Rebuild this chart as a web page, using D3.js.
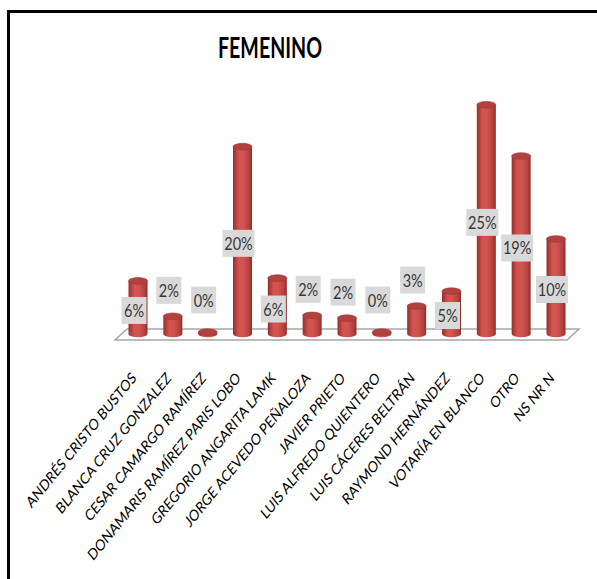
<!DOCTYPE html>
<html>
<head>
<meta charset="utf-8">
<script src="https://cdn.jsdelivr.net/npm/d3@7/dist/d3.min.js"></script>
<style>
  html, body { margin: 0; padding: 0; background: #fff; }
  svg { display: block; }
</style>
</head>
<body>
<svg id="chart" width="597" height="579"></svg>
<script>
const title = "FEMENINO";
const categories = [
  "ANDRÉS CRISTO BUSTOS",
  "BLANCA CRUZ GONZALEZ",
  "CESAR CAMARGO RAMÍREZ",
  "DONAMARIS RAMÍREZ PARIS LOBO",
  "GREGORIO ANGARITA LAMK",
  "JORGE ACEVEDO PEÑALOZA",
  "JAVIER PRIETO",
  "LUIS ALFREDO QUIENTERO",
  "LUIS CÁCERES BELTRÁN",
  "RAYMOND HERNÁNDEZ",
  "VOTARÍA EN BLANCO",
  "OTRO",
  "NS NR N"
];
const values = [5.7, 1.9, 0.2, 20.1, 6.0, 2.0, 1.7, 0.2, 3.0, 4.6, 24.6, 19.1, 10.2];

const svg = d3.select("#chart");
const S = 1.23;             // vertical stretch of the reference's text
const FONT = "Lato, 'Open Sans', sans-serif";

// frame
svg.append("rect")
  .attr("x", 8.5).attr("y", 11.5)
  .attr("width", 800).attr("height", 800)
  .attr("fill", "none").attr("stroke", "#000").attr("stroke-width", 3);

// title
svg.append("text")
  .attr("transform", `translate(270,58) scale(1,1.2)`)
  .attr("text-anchor", "middle")
  .attr("font-family", FONT).attr("font-weight", "bold")
  .attr("font-size", 24)
  .attr("textLength", 104).attr("lengthAdjust", "spacingAndGlyphs")
  .attr("fill", "#000")
  .text(title);

// scales
const baseY = 334;
const x = d3.scalePoint().domain(categories).range([138, 556]);
const y = d3.scaleLinear().domain([0, 25]).range([baseY, baseY - 233]);

// floor
const floorBack = 329, floorFront = 340;
svg.append("path")
  .attr("d", `M127,${floorBack} L579,${floorBack} L567,${floorFront} L115,${floorFront} Z`)
  .attr("fill", "#fff").attr("stroke", "#a6a6a6").attr("stroke-width", 1.5);

// gradient
const defs = svg.append("defs");
const g = defs.append("linearGradient").attr("id", "cyl").attr("x1", "0").attr("x2", "1").attr("y1", "0").attr("y2", "0");
[["0%", "#93302e"], ["30%", "#d4534f"], ["55%", "#cf5450"], ["85%", "#b5403c"], ["100%", "#8a2e2b"]]
  .forEach(([o, c]) => g.append("stop").attr("offset", o).attr("stop-color", c));

const r = 9.5, ry = 3.3;
const bars = svg.append("g").selectAll("g").data(values).join("g");
bars.append("path")
  .attr("d", (d, i) => {
    const cx = x(categories[i]), yt = y(d);
    return `M${cx - r},${yt} L${cx - r},${baseY} A${r},${ry} 0 0 0 ${cx + r},${baseY} L${cx + r},${yt} Z`;
  })
  .attr("fill", "url(#cyl)");
bars.append("ellipse")
  .attr("cx", (d, i) => x(categories[i]))
  .attr("cy", d => y(d))
  .attr("rx", r).attr("ry", ry)
  .attr("fill", "#b2423f").attr("stroke", "#9a3532").attr("stroke-width", 0.6);

// data labels
const fmt = v => d3.format(".0f")(v) + "%";
const labels = svg.append("g").selectAll("g").data(values).join("g")
  .attr("transform", (d, i) => {
    const cx = x(categories[i]) - 4;
    const yt = y(d);
    const cy = d >= 4 ? (yt + baseY) / 2 + 3 : Math.min(yt - 26, 300);
    return `translate(${cx},${cy})`;
  });
labels.append("rect")
  .attr("x", d => fmt(d).length > 2 ? -16 : -12.5)
  .attr("width", d => fmt(d).length > 2 ? 32 : 25)
  .attr("y", -13.5).attr("height", 27)
  .attr("fill", "#d9d9d9");
labels.append("text")
  .attr("transform", `translate(0,6.5) scale(1,${S})`)
  .attr("text-anchor", "middle")
  .attr("font-family", FONT).attr("font-size", 14.5)
  .attr("fill", "#383838")
  .text(fmt);

// category labels
svg.append("g").selectAll("text").data(categories).join("text")
  .attr("transform", d => `translate(${x(d) - 1},379) scale(1,${S}) rotate(-45)`)
  .attr("text-anchor", "end")
  .attr("font-family", FONT).attr("font-size", 12.7)
  .attr("fill", "#000")
  .text(d => d);
</script>
</body>
</html>
